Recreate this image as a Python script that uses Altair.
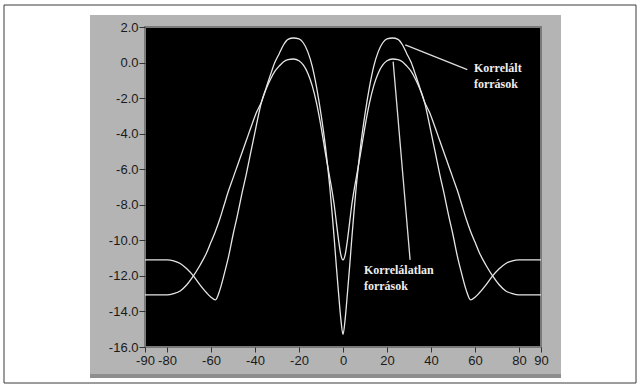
import altair as alt
import pandas as pd

# Angle (degrees) grid shared by both curves
x_deg = [-90, -85, -80, -77, -74, -71, -68, -65, -62, -60, -58, -56, -54, -52, -50,
         -48, -46, -44, -42, -39.5, -37, -35, -33, -31, -29, -27, -25, -22.5, -20,
         -18, -16, -14, -12, -10, -8, -7, -6, -5, -4, -3, -2, -1, 0,
         1, 2, 3, 4, 5, 6, 7, 8, 10, 12, 14, 16, 18, 20, 22.5, 25, 27, 29, 31,
         33, 35, 37, 39.5, 42, 44, 46, 48, 50, 52, 54, 56, 58, 60, 62, 65, 68,
         71, 74, 77, 80, 85, 90]

# Correlated sources (higher main lobes, deep null at 0)
korrelalt = [-11.1, -11.1, -11.1, -11.15, -11.3, -11.6, -12.0, -12.5, -12.95, -13.2, -13.35, -12.8, -11.9, -10.9, -9.7,
             -8.6, -7.4, -6.3, -5.1, -3.6, -2.2, -1.45, -0.7, 0.0, 0.5, 1.0, 1.3, 1.38, 1.33,
             1.1, 0.6, -0.2, -1.4, -2.9, -4.7, -5.8, -7.0, -8.4, -9.9, -11.5, -13.0, -14.4, -15.3,
             -14.4, -13.0, -11.5, -9.9, -8.4, -7.0, -5.8, -4.7, -2.9, -1.4, -0.2, 0.6, 1.1, 1.33, 1.38, 1.3, 1.0, 0.5, 0.0,
             -0.7, -1.45, -2.2, -3.6, -5.1, -6.3, -7.4, -8.6, -9.7, -10.9, -11.9, -12.8, -13.35, -13.2, -12.95, -12.5, -12.0,
             -11.6, -11.3, -11.15, -11.1, -11.1, -11.1]

# Uncorrelated sources (lower main lobes, shallow dip at 0)
korrelalatlan = [-13.07, -13.07, -13.07, -13.0, -12.85, -12.5, -12.0, -11.4, -10.7, -10.1, -9.5, -8.8, -8.0, -7.2, -6.5,
                 -5.8, -5.1, -4.4, -3.7, -2.85, -2.2, -1.5, -0.95, -0.5, -0.2, 0.05, 0.17, 0.2, 0.1,
                 -0.15, -0.6, -1.3, -2.3, -3.6, -5.1, -5.8, -6.5, -7.2, -8.0, -9.0, -10.0, -10.8, -11.1,
                 -10.8, -10.0, -9.0, -8.0, -7.2, -6.5, -5.8, -5.1, -3.6, -2.3, -1.3, -0.6, -0.15, 0.1, 0.2, 0.17, 0.05, -0.2, -0.5,
                 -0.95, -1.5, -2.2, -2.85, -3.7, -4.4, -5.1, -5.8, -6.5, -7.2, -8.0, -8.8, -9.5, -10.1, -10.7, -11.4, -12.0,
                 -12.5, -12.85, -13.0, -13.07, -13.07, -13.07]

y_ticks = [2, 0, -2, -4, -6, -8, -10, -12, -14, -16]
x_ticks = [-90, -80, -60, -40, -20, 0, 20, 40, 60, 80, 90]

# Annotation texts and pointer lines (data coordinates)
label_text = [["Korrelált", "források"], ["Korrelálatlan", "források"]]
label_x = [59.5, 9.5]
label_y = [-0.3, -11.65]
pointer_x1 = [28.3, 22.8]
pointer_y1 = [1.0, 0.05]
pointer_x2 = [56.5, 30.5]
pointer_y2 = [-0.4, -11.1]

rows = []
for name, ys in [("Korrelált", korrelalt), ("Korrelálatlan", korrelalatlan)]:
    for x, y in zip(x_deg, ys):
        rows.append({"x": x, "y": y, "series": name})
df = pd.DataFrame(rows)

ann = pd.DataFrame({"x": label_x, "y": label_y, "t": label_text})
ptr = pd.DataFrame({"x": pointer_x1, "y": pointer_y1, "x2": pointer_x2, "y2": pointer_y2})

W, H = 396, 320
xs = alt.Scale(domain=[-90, 90], nice=False, zero=False)
ys_ = alt.Scale(domain=[-16, 2], nice=False, zero=False)

one = pd.DataFrame({"a": [0]})

frame = alt.Chart(one).mark_rect(fill="white", stroke="#3a3a3a", strokeWidth=1).encode(
    x=alt.value(-141), x2=alt.value(491), y=alt.value(-22), y2=alt.value(356))
panel = alt.Chart(one).mark_rect(fill="#b4b4b4").encode(
    x=alt.value(-55), x2=alt.value(416), y=alt.value(-12), y2=alt.value(351))
panel_edge = alt.Chart(one).mark_rect(fill="#8e8e8e").encode(
    x=alt.value(-55), x2=alt.value(416), y=alt.value(347), y2=alt.value(351))
plotbg = alt.Chart(one).mark_rect(fill="black", stroke="#7a7a7a", strokeWidth=2).encode(
    x=alt.value(0), x2=alt.value(W), y=alt.value(0), y2=alt.value(H))

lines = alt.Chart(df).mark_line(color="#e6e6e6", strokeWidth=1.3, interpolate="monotone").encode(
    x=alt.X("x:Q", scale=xs, axis=alt.Axis(values=x_ticks, tickCount=len(x_ticks) + 5, title=None,
                                           labelExpr="replace(format(datum.value, 'd'), '\u2212', '-')",
                                           grid=False,
                                           domain=False, tickSize=5, tickColor="#333",
                                           labelFont="Liberation Sans", labelFontSize=13,
                                           labelColor="#1a1a1a", labelPadding=2, zindex=1,
                                           labelFlush=False, labelOverlap=False, labelBound=False)),
    y=alt.Y("y:Q", scale=ys_, axis=alt.Axis(values=y_ticks, tickCount=len(y_ticks) + 5, title=None,
                                            labelExpr="replace(format(datum.value, '.1f'), '\u2212', '-')",
                                            grid=False,
                                            domain=False, tickSize=6, tickColor="#333",
                                            labelFont="Liberation Sans", labelFontSize=13,
                                            labelColor="#1a1a1a", labelPadding=1, zindex=1,
                                            labelFlush=False, labelOverlap=False, labelBound=False)),
    detail="series:N",
)

pointers = alt.Chart(ptr).mark_rule(color="#dddddd", strokeWidth=1.3).encode(
    x=alt.X("x:Q", scale=xs), y=alt.Y("y:Q", scale=ys_), x2="x2:Q", y2="y2:Q")

texts = alt.Chart(ann).mark_text(font="Liberation Serif", fontWeight="bold", fontSize=12,
                                 color="#eeeeee", align="left", baseline="middle",
                                 lineHeight=16).encode(
    x=alt.X("x:Q", scale=xs), y=alt.Y("y:Q", scale=ys_), text="t")

chart = alt.layer(frame, panel, panel_edge, plotbg, lines, pointers, texts).properties(
    width=W, height=H,
    autosize=alt.AutoSizeParams(type="none"),
    padding={"left": 145, "top": 27, "right": 99, "bottom": 43},
    background="white",
).configure_view(stroke=None)

chart.save("out.html", embed_options={"renderer": "svg", "actions": False})
